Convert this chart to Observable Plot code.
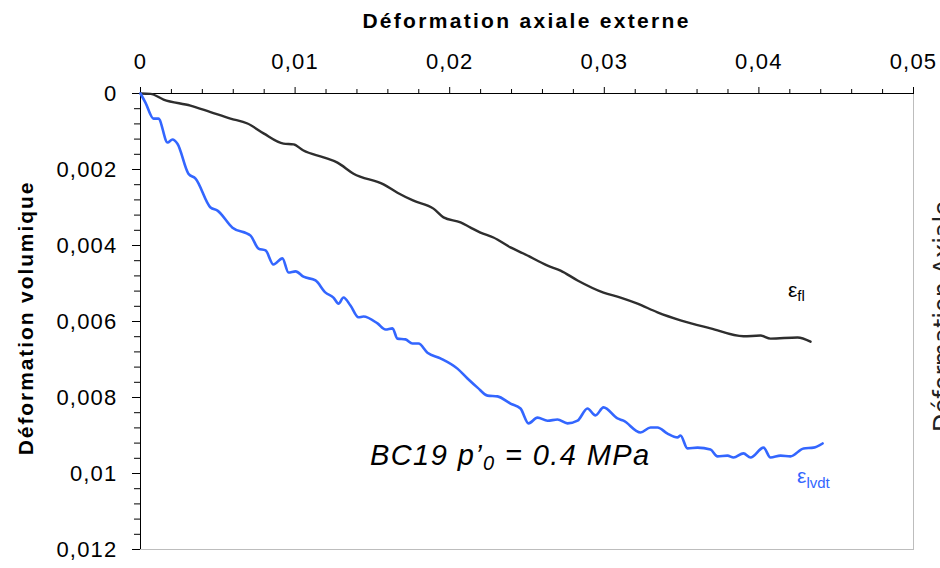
<!DOCTYPE html>
<html><head><meta charset="utf-8">
<script src="https://cdn.jsdelivr.net/npm/d3@7"></script>
<script src="https://cdn.jsdelivr.net/npm/@observablehq/plot@0.6"></script>
<style>
html,body{margin:0;padding:0;background:#fff;overflow:hidden;width:940px;height:568px;}
#chart{position:relative;width:940px;height:568px;overflow:hidden;}
</style></head><body><div id="chart"></div>
<script>
// ε_fl series (external axial strain vs volumetric strain)
const flX = [0, 0.00065, 0.00149, 0.00323, 0.00453, 0.00582, 0.00692, 0.00796, 0.00925, 0.0099, 0.01054, 0.01184, 0.01274, 0.01378, 0.01572, 0.01662, 0.01766, 0.01895, 0.0196, 0.0207, 0.02135, 0.02199, 0.02283, 0.02393, 0.02477, 0.02633, 0.02717, 0.02827, 0.02995, 0.03105, 0.03215, 0.03344, 0.03493, 0.03687, 0.039, 0.0401, 0.04075, 0.0425, 0.04334];
const flY = [0, 0.00001, 0.00016, 0.00032, 0.00049, 0.00066, 0.00079, 0.00105, 0.00132, 0.00134, 0.0015, 0.00168, 0.00182, 0.00211, 0.00239, 0.00261, 0.00282, 0.00303, 0.00326, 0.00339, 0.00353, 0.00366, 0.00379, 0.00405, 0.00421, 0.00453, 0.00466, 0.00492, 0.00524, 0.00537, 0.00553, 0.00576, 0.00597, 0.00618, 0.00639, 0.00637, 0.00645, 0.00642, 0.00653];
// ε_lvdt series
const lvdtX = [0, 0.00032, 0.00084, 0.00116, 0.00175, 0.00207, 0.00239, 0.0031, 0.00356, 0.00453, 0.00498, 0.00595, 0.00712, 0.00763, 0.00809, 0.0086, 0.00918, 0.00957, 0.01003, 0.01054, 0.01132, 0.01197, 0.01248, 0.01281, 0.01313, 0.01358, 0.0141, 0.01442, 0.01533, 0.01585, 0.0163, 0.01662, 0.01714, 0.01759, 0.01798, 0.01856, 0.0194, 0.0205, 0.02115, 0.0218, 0.02245, 0.02309, 0.02393, 0.02458, 0.0251, 0.02568, 0.02633, 0.02697, 0.02762, 0.02827, 0.02891, 0.02943, 0.02995, 0.03085, 0.03124, 0.03234, 0.03299, 0.03344, 0.03409, 0.03473, 0.03493, 0.03538, 0.03603, 0.03687, 0.03732, 0.03797, 0.03836, 0.039, 0.03946, 0.0403, 0.04075, 0.0414, 0.04204, 0.04289, 0.04354, 0.04412];
const lvdtY = [0, 0.00024, 0.00066, 0.00066, 0.00129, 0.00121, 0.00132, 0.00211, 0.00224, 0.003, 0.00308, 0.00353, 0.00374, 0.00408, 0.00413, 0.0045, 0.00434, 0.00471, 0.00468, 0.00482, 0.00492, 0.00524, 0.00537, 0.00553, 0.00537, 0.00558, 0.00589, 0.00587, 0.00605, 0.00621, 0.00618, 0.00645, 0.00647, 0.00658, 0.00658, 0.00682, 0.00697, 0.00724, 0.0075, 0.00774, 0.00795, 0.00797, 0.00816, 0.00829, 0.00868, 0.00853, 0.00861, 0.00858, 0.00868, 0.00861, 0.00829, 0.00847, 0.00826, 0.00855, 0.00861, 0.00892, 0.00879, 0.00879, 0.00895, 0.00905, 0.009, 0.00934, 0.00932, 0.00937, 0.00955, 0.00953, 0.00958, 0.00947, 0.00958, 0.00932, 0.00958, 0.00953, 0.00955, 0.00934, 0.00932, 0.00921];

// Axis ticks
const xMajor = [0, 0.01, 0.02, 0.03, 0.04, 0.05];
const xMinor = [0.002, 0.004, 0.006, 0.008, 0.012, 0.014, 0.016, 0.018, 0.022, 0.024, 0.026, 0.028, 0.032, 0.034, 0.036, 0.038, 0.042, 0.044, 0.046, 0.048];
const yMajor = [0, 0.002, 0.004, 0.006, 0.008, 0.01, 0.012];
const yMinor = [0.0004, 0.0008, 0.0012, 0.0016, 0.0024, 0.0028, 0.0032, 0.0036, 0.0044, 0.0048, 0.0052, 0.0056, 0.0064, 0.0068, 0.0072, 0.0076, 0.0084, 0.0088, 0.0092, 0.0096, 0.0104, 0.0108, 0.0112, 0.0116];

// Texts
const titleText = "Déformation axiale externe";
const yLabelText = "Déformation volumique";
const rightLabelText = "Déformation Axiale";
const noteMain = "BC19 p’";
const noteSub = "0";
const noteRest = " = 0.4 MPa";

const fl = flX.map((x, i) => ({x, y: flY[i]}));
const lvdt = lvdtX.map((x, i) => ({x, y: lvdtY[i]}));
const fmt = d => d === 0 ? "0" : String(+d.toFixed(4)).replace(".", ",");

const FONT = "'Liberation Sans', Arial, sans-serif";
const BLUE = "#3366ff";
const DARK = "#2e2e2e";

const plot = Plot.plot({
  width: 940, height: 568,
  marginLeft: 140, marginRight: 27, marginTop: 93, marginBottom: 19,
  style: {fontFamily: FONT, fontSize: "22px", color: "#000", background: "#fff", letterSpacing: "1.2px"},
  x: {domain: [0, 0.05]},
  y: {domain: [0, 0.012], reverse: true},
  marks: [
    Plot.frame({stroke: "#bdbdbd"}),
    Plot.axisX(xMinor, {anchor: "top", tickSize: 5, tickFormat: () => "", label: null}),
    Plot.axisX(xMajor, {anchor: "top", tickSize: 7, tickPadding: 18, tickFormat: fmt, label: null}),
    Plot.axisY(yMinor, {anchor: "left", tickSize: 6, tickFormat: () => "", label: null}),
    Plot.axisY(yMajor, {anchor: "left", tickSize: 8, tickPadding: 15, tickFormat: fmt, label: null}),
    Plot.ruleX([0], {stroke: "#000"}),
    Plot.ruleY([0], {stroke: "#000"}),
    Plot.line(fl, {x: "x", y: "y", stroke: DARK, strokeWidth: 2.4, curve: "monotone-x"}),
    Plot.line(lvdt, {x: "x", y: "y", stroke: BLUE, strokeWidth: 2.6, curve: "monotone-x"})
  ]
});

document.getElementById("chart").appendChild(plot);

const sx = plot.scale("x"), sy = plot.scale("y");
const svg = d3.select(plot);
const g = svg.append("g").attr("font-family", FONT).attr("letter-spacing", "0px");

// Title (top axis label)
g.append("text")
  .attr("x", (sx.apply(0) + sx.apply(0.05)) / 2).attr("y", 28)
  .attr("text-anchor", "middle").attr("font-weight", "bold")
  .attr("font-size", 21).attr("letter-spacing", "2.3px")
  .text(titleText);

// Y label
g.append("text")
  .attr("transform", `translate(33,${(sy.apply(0) + sy.apply(0.012)) / 2 - 3}) rotate(-90)`)
  .attr("text-anchor", "middle").attr("font-weight", "bold")
  .attr("font-size", 21).attr("letter-spacing", "1.9px")
  .text(yLabelText);

// Clipped secondary axis label on the right edge
g.append("text")
  .attr("transform", "translate(951,432) rotate(-90)")
  .attr("text-anchor", "start")
  .attr("font-family", "'DejaVu Sans', sans-serif")
  .attr("font-size", 24).attr("fill", "#222")
  .text(rightLabelText);

// Annotation BC19
const note = g.append("text")
  .attr("x", sx.apply(0.01488)).attr("y", sy.apply(0.00979))
  .attr("text-anchor", "start")
  .attr("font-style", "italic").attr("font-size", 29).attr("letter-spacing", "1.4px").attr("fill", "#000");
note.append("tspan").text(noteMain);
note.append("tspan").attr("dy", 5).attr("font-size", 20).text(noteSub);
note.append("tspan").attr("dy", -5).text(noteRest);

// Series labels
const lf = g.append("text")
  .attr("x", sx.apply(0.04191)).attr("y", sy.apply(0.00537))
  .attr("text-anchor", "start")
  .attr("font-size", 21).attr("fill", "#000");
lf.append("tspan").text("ε");
lf.append("tspan").attr("dy", 4).attr("font-size", 15).text("fl");

const lv = g.append("text")
  .attr("x", sx.apply(0.0425)).attr("y", sy.apply(0.01026))
  .attr("text-anchor", "start")
  .attr("font-size", 21).attr("fill", BLUE);
lv.append("tspan").text("ε");
lv.append("tspan").attr("dy", 5).attr("font-size", 15).text("lvdt");
</script>
</body></html>
